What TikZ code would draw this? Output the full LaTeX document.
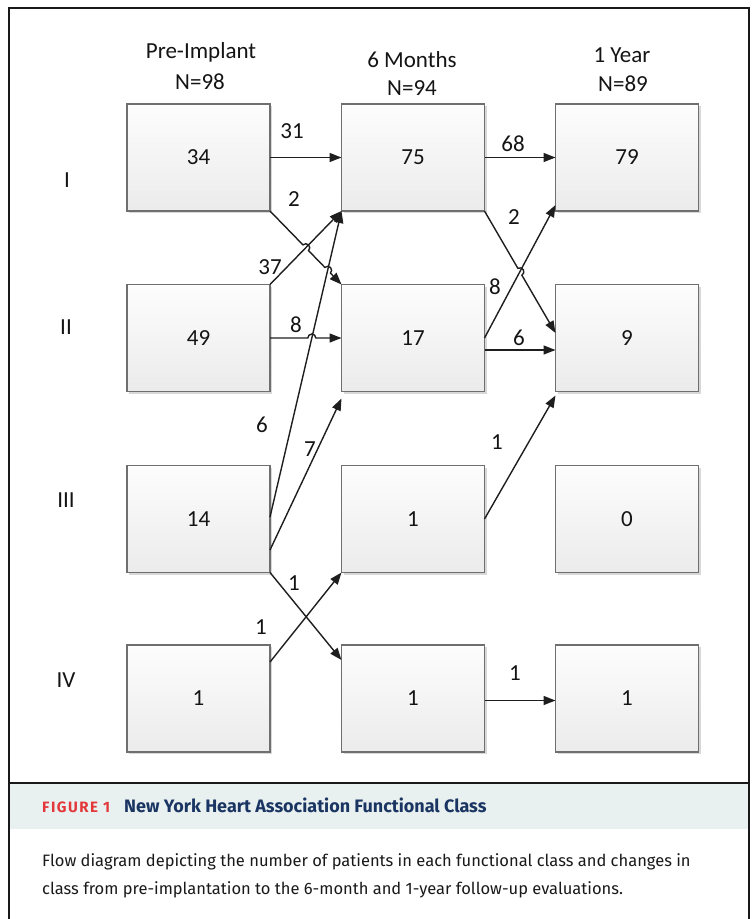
\documentclass[tikz,border=0pt]{standalone}
\usepackage{fontspec}
\setmainfont{Carlito}
\newfontfamily\capfont{Fira Sans}
\newfontfamily\figfont[LetterSpace=10]{Fira Sans}
\usetikzlibrary{arrows.meta,calc,shadows}

\definecolor{boxedge}{HTML}{6F6F6F}
\definecolor{boxtop}{HTML}{FDFDFD}
\definecolor{boxbot}{HTML}{EBEBEB}
\definecolor{linecol}{HTML}{1E1E1E}
\definecolor{capband}{HTML}{E8F1F0}
\definecolor{figred}{HTML}{E3373B}
\definecolor{titleblue}{HTML}{1B3563}

\tikzset{
  classbox/.style={draw=boxedge, line width=1.3pt, top color=boxtop, bottom color=boxbot,
    minimum width=143pt, minimum height=107pt, outer sep=0pt, inner sep=0pt,
    font=\fontsize{23}{27}\selectfont, text=black!92,
    drop shadow={shadow xshift=2pt, shadow yshift=-2pt, fill=black!22, opacity=0.7}},
  flow/.style={draw=linecol, line width=1.4pt, -{Triangle[length=12pt,width=9pt]}},
  lbl/.style={font=\fontsize{23}{27}\selectfont, inner sep=0pt, text=black!92},
  head/.style={font=\fontsize{23}{28}\selectfont, align=center, inner sep=0pt, text=black!92},
  frame/.style={draw=black!90, line width=2pt},
}

\begin{document}
\begin{tikzpicture}[x=1pt,y=-1pt]
\useasboundingbox (0,0) rectangle (755,919);

% outer frame and caption band
\fill[capband] (10,784) rectangle (748,829);
\draw[frame] (9,919) -- (9,8) -- (749,8) -- (749,919);
\draw[frame] (9,783) -- (749,783);

% column headers
\node[head] (h1) at (201,52) {Pre-Implant};
\node[head] (h1n) at (200,82) {N=98};
\node[head] (h2) at (412,60) {6 Months};
\node[head] (h2n) at (412,88) {N=94};
\node[head] (h3) at (622,55) {1 Year};
\node[head] (h3n) at (623,84) {N=89};

% row labels (functional class)
\node[lbl] (r1) at (67,180) {I};
\node[lbl] (r2) at (66,327) {II};
\node[lbl] (r3) at (66,500) {III};
\node[lbl] (r4) at (66,680) {IV};

% class boxes
\node[classbox] (p1) at (198.5,157.5) {34};
\node[classbox] (p2) at (198.5,338) {49};
\node[classbox] (p3) at (198.5,519) {14};
\node[classbox] (p4) at (198.5,698.5) {1};
\node[classbox] (m1) at (413,157.5) {75};
\node[classbox] (m2) at (413,338) {17};
\node[classbox] (m3) at (413,519) {1};
\node[classbox] (m4) at (413,698.5) {1};
\node[classbox] (y1) at (627,157.5) {79};
\node[classbox] (y2) at (627,338) {9};
\node[classbox] (y3) at (627,519) {0};
\node[classbox] (y4) at (627,698.5) {1};

% connector end points
\coordinate (a2s) at (p1.south east);
\coordinate (a2e) at (m2.north west);
\coordinate (a37s) at (p2.north east);
\coordinate (a37e) at (m1.south west);
\coordinate (a8s) at (p2.east);
\coordinate (a8e) at (m2.west);
\coordinate (a6s) at ($(p3.east)+(0,-2)$);
\coordinate (a6e) at (m1.south west);
\coordinate (a7s) at ($(p3.east)+(0,31)$);
\coordinate (a7e) at ($(m2.south west)+(0,7)$);
\coordinate (b1s) at (p3.south east);
\coordinate (b1e) at ($(m4.north west)+(0,15)$);
\coordinate (c1s) at ($(p4.north east)+(0,17)$);
\coordinate (c1e) at (m3.south west);

\coordinate (d2s) at (m1.south east);
\coordinate (d2e) at ($(y2.west)+(0,-5)$);
\coordinate (d8s) at (m2.east);
\coordinate (d8e) at ($(y1.south west)+(0,-6)$);
\coordinate (d6s) at ($(m2.east)+(0,12)$);
\coordinate (d6e) at ($(y2.west)+(0,12)$);
\coordinate (d1s) at (m3.east);
\coordinate (d1e) at ($(y2.south west)+(0,4)$);

% crossing points where a line hops over another
\coordinate (x1) at (intersection of a2s--a2e and a37s--a37e);
\coordinate (x2) at (intersection of a2s--a2e and a6s--a6e);
\coordinate (x3) at (intersection of a8s--a8e and a6s--a6e);
\coordinate (x4) at (intersection of d2s--d2e and d8s--d8e);

% straight connectors
\draw[flow] (p1.east) -- (m1.west);
\draw[flow] (a37s) -- (a37e);
\draw[flow] (a6s) -- (a6e);
\draw[flow] (a7s) -- (a7e);
\draw[flow] (b1s) -- (b1e);
\draw[flow] (c1s) -- (c1e);
\draw[flow] (m1.east) -- (y1.west);
\draw[flow] (d8s) -- (d8e);
\draw[flow] (d6s) -- (d6e);
\draw[flow] (d1s) -- (d1e);
\draw[flow] ($(m4.east)+(0,2)$) -- ($(y4.west)+(0,2)$);

% connectors with line hops
\draw[flow] let \p1=($(a2e)-(a2s)$), \n1={atan2(\y1,\x1)} in
  (a2s) -- ($(x1)!4pt!(a2s)$) arc[start angle=\n1+180, delta angle=-180, radius=4pt]
  -- ($(x2)!4pt!(a2s)$) arc[start angle=\n1+180, delta angle=-180, radius=4pt]
  -- (a2e);
\draw[flow] let \p1=($(a8e)-(a8s)$), \n1={atan2(\y1,\x1)} in
  (a8s) -- ($(x3)!4pt!(a8s)$) arc[start angle=\n1+180, delta angle=-180, radius=4pt]
  -- (a8e);
\draw[flow] let \p1=($(d2e)-(d2s)$), \n1={atan2(\y1,\x1)} in
  (d2s) -- ($(x4)!4pt!(d2s)$) arc[start angle=\n1+180, delta angle=-180, radius=4pt]
  -- (d2e);

% flow counts
\node[lbl] (n31) at (292,131) {31};
\node[lbl] (n2a) at (294,199) {2};
\node[lbl] (n37) at (270,267) {37};
\node[lbl] (n8a) at (296,325) {8};
\node[lbl] (n6a) at (262,425) {6};
\node[lbl] (n7) at (310,449) {7};
\node[lbl] (n1a) at (294,583) {1};
\node[lbl] (n1b) at (261,627) {1};
\node[lbl] (n68) at (513,144) {68};
\node[lbl] (n2b) at (514,217) {2};
\node[lbl] (n8b) at (495,287) {8};
\node[lbl] (n6b) at (519,338) {6};
\node[lbl] (n1c) at (497,442) {1};
\node[lbl] (n1d) at (515,673) {1};

% caption
\node[anchor=base west, inner sep=0pt, text=figred, font=\figfont\bfseries\fontsize{15}{17}\selectfont]
  (fig) at (42,812) {FIGURE 1};
\node[anchor=base west, inner sep=0pt, text=titleblue, font=\capfont\bfseries\fontsize{18}{20}\selectfont]
  (title) at (124,812) {New York Heart Association Functional Class};
\node[anchor=base west, inner sep=0pt, align=left, text=black!90,
  font=\capfont\fontsize{16.5}{28}\selectfont] (cap) at (42,894)
  {Flow diagram depicting the number of patients in each functional class and changes in\\
   class from pre-implantation to the 6-month and 1-year follow-up evaluations.};
\end{tikzpicture}
\end{document}
